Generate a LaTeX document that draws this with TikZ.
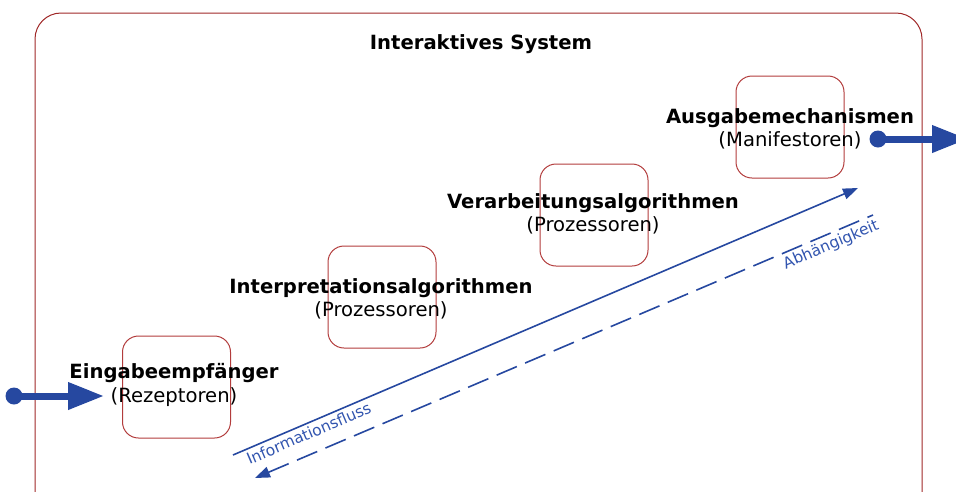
\documentclass[tikz,border=0pt]{standalone}
\usepackage{fontspec}
\setmainfont{DejaVu Sans}
\usetikzlibrary{arrows.meta}
\definecolor{framered}{RGB}{160,40,40}
\definecolor{boxred}{RGB}{178,60,60}
\definecolor{flowblue}{RGB}{38,72,160}
\definecolor{labelblue}{RGB}{50,85,175}
\begin{document}
\begin{tikzpicture}[x=1pt,y=-1pt,
  compbox/.style={draw=boxred,line width=1pt,rounded corners=16pt,minimum width=108pt,minimum height=102pt,inner sep=0pt},
  maintext/.style={align=center,font=\fontsize{19.6}{23.5}\selectfont,inner sep=0pt},
  bigarrow/.style={draw=flowblue,line width=7pt,-{Triangle[length=36pt,width=26pt]}},
  dot/.style={circle,fill=flowblue,inner sep=0pt,minimum size=17pt},
  flow/.style={draw=flowblue,line width=1.6pt},
  flowlabel/.style={text=labelblue,font=\fontsize{15.5}{18}\selectfont,inner sep=3pt}]
\useasboundingbox (0,0) rectangle (956,491);
\begin{scope}
\clip (0,0) rectangle (956,491);
% outer frame
\draw[framered,line width=1pt,rounded corners=26pt] (35,13) rectangle (922,520);
% component boxes
\node[compbox] (b1) at (176.5,387) {};
\node[compbox] (b2) at (382,297) {};
\node[compbox] (b3) at (594,215) {};
\node[compbox] (b4) at (790,127) {};
% title
\node[font=\bfseries\fontsize{19.6}{22}\selectfont] (title) at (481,44) {Interaktives System};
% labels
\node[maintext] (l1) at (174,385) {\textbf{Eingabeempfänger}\\(Rezeptoren)};
\node[maintext] (l2) at (381,299) {\textbf{Interpretationsalgorithmen}\\(Prozessoren)};
\node[maintext] (l3) at (593,214) {\textbf{Verarbeitungsalgorithmen}\\(Prozessoren)};
\node[maintext] (l4) at (790,129) {\textbf{Ausgabemechanismen}\\(Manifestoren)};
% input / output arrows
\node[dot] (inA) at (14,396) {};
\coordinate (inB) at (104,396);
\node[dot] (outA) at (878,139) {};
\coordinate (outB) at (968,139);
\draw[bigarrow] (inA.center) -- (inB);
\draw[bigarrow] (outA.center) -- (outB);
% information flow and dependency
\coordinate (f1) at (233,455);
\coordinate (f2) at (858,188);
\coordinate (d1) at (255,478);
\coordinate (d2) at (873,215);
\draw[flow,-{Triangle[length=15pt,width=11pt]}] (f1) -- (f2)
  node[flowlabel,pos=0.115,below,sloped] {Informationsfluss};
\draw[flow,dash pattern=on 22pt off 9pt,{Triangle[length=15pt,width=11pt]}-] (d1) -- (d2)
  node[flowlabel,pos=0.925,below,sloped] {Abhängigkeit};
\end{scope}
\end{tikzpicture}
\end{document}
